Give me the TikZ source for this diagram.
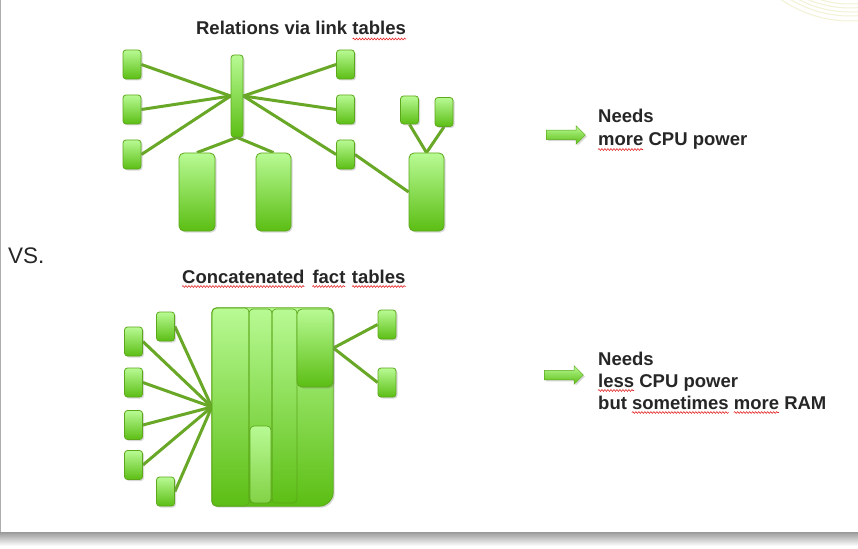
\documentclass[tikz,border=0pt]{standalone}
\usepackage{fontspec}
\setmainfont{Liberation Sans}
\usetikzlibrary{shapes.arrows,shadows,backgrounds,decorations.pathmorphing}

\definecolor{lnk}{RGB}{104,168,38}
\definecolor{bord}{RGB}{92,168,26}
\definecolor{gtop}{RGB}{184,250,148}
\definecolor{gbot}{RGB}{92,190,20}
\definecolor{gmid}{RGB}{130,210,70}
\definecolor{txt}{RGB}{38,38,38}
\definecolor{arcc}{RGB}{242,242,212}
\definecolor{spell}{RGB}{230,40,40}

\newcommand\lblfont{\bfseries\fontsize{18.5}{23}\selectfont}
\newlength\wtables \newlength\wconc \newlength\wfact
\newlength\wmore \newlength\wless \newlength\wbut \newlength\wsome

\tikzset{
  shd/.style={drop shadow={shadow xshift=1.5pt, shadow yshift=-1.5pt, opacity=0.3}},
  box/.style={draw=bord, line width=0.8pt, rounded corners=3pt, top color=gtop, bottom color=gbot, inner sep=0pt, shd},
  small/.style={box, minimum width=18pt, minimum height=29pt},
  tall/.style={box, rounded corners=5pt, minimum width=36pt, minimum height=78pt},
  colbox/.style={draw=bord, line width=0.7pt, rounded corners=4pt, inner sep=0pt},
  link/.style={draw=lnk, line width=3pt},
  lbl/.style={font=\lblfont, text=txt, align=left, inner sep=0pt},
  garrow/.style={single arrow, draw=bord, line width=0.5pt, top color=gtop, bottom color=gbot,
    inner sep=4.5pt, single arrow head extend=4.5pt, minimum height=39pt, shd},
  squig/.style={draw=spell, line width=0.6pt, decorate, decoration={snake, amplitude=0.9pt, segment length=3pt}},
}

\begin{document}
\settowidth\wtables{\lblfont tables}
\settowidth\wconc{\lblfont Concatenated}
\settowidth\wfact{\lblfont fact}
\settowidth\wmore{\lblfont more}
\settowidth\wless{\lblfont less}
\settowidth\wbut{\lblfont but }
\settowidth\wsome{\lblfont sometimes }
\begin{tikzpicture}[x=1pt, y=-1pt]
\useasboundingbox (0,0) rectangle (858,548);
% slide (on the background layer, below the links)
\begin{scope}[on background layer]
\fill[white] (0,0) rectangle (858,548);
\shade[top color=black!40, bottom color=white] (0,532) rectangle (858,546);
\fill[black!32] (0,0) rectangle (1.3,532);
\begin{scope}
  \clip (1.3,0) rectangle (858,532);
  \foreach \r in {104,108,112,116,121}
    \draw[arcc, line width=1pt] (850,-100) circle[radius=\r];
\end{scope}
\end{scope}

% ---------- top diagram ----------
\node[lbl, anchor=base] (t1) at (301,35) {Relations via link tables};
\draw[squig] ([xshift=-\wtables, yshift=-4pt]t1.base east) -- ([yshift=-4pt]t1.base east);

\node[small] (l1) at (132,64.5) {};
\node[small] (l2) at (132,109.5) {};
\node[small] (l3) at (132,154.5) {};
\node[box, minimum width=12pt, minimum height=82pt] (bar) at (237,96) {};
\node[small] (r1) at (345.5,64.5) {};
\node[small] (r2) at (345.5,109.5) {};
\node[small] (r3) at (345.5,154.5) {};
\node[tall] (big1) at (197,192) {};
\node[tall, minimum width=35pt] (big2) at (273.5,192) {};
\node[small, minimum height=28pt] (s1) at (409.5,110) {};
\node[small] (s2) at (444,112) {};
\node[tall, minimum width=35pt] (big3) at (426.5,192) {};

\begin{scope}[on background layer]
  \draw[link] (l1.east) -- (bar.west);
  \draw[link] (l2.east) -- (bar.west);
  \draw[link] (l3.east) -- (bar.west);
  \draw[link] (bar.east) -- (r1.west);
  \draw[link] (bar.east) -- (r2.west);
  \draw[link] (bar.east) -- (r3.west);
  \draw[link] (r3.east) -- (big3.west);
  \draw[link] (bar.south) -- (big1.north);
  \draw[link] (bar.south) -- (big2.north);
  \draw[link] (s1.south) -- (big3.north);
  \draw[link] (s2.south) -- (big3.north);
\end{scope}

\node[garrow] (ar1) at (563.5,135) {};
\node[lbl, anchor=base west] (n1a) at (598,123) {Needs};
\node[lbl, anchor=base west] (n1b) at (598,146) {more CPU power};
\draw[squig] ([yshift=-3.5pt]n1b.base west) -- ([xshift=\wmore, yshift=-3.5pt]n1b.base west);

% ---------- VS ----------
\node[font=\fontsize{22.5}{27}\selectfont, text=txt, anchor=base west, inner sep=0pt] (vs) at (8,263) {VS.};

% ---------- bottom diagram ----------
\node[lbl, anchor=base west] (t2) at (182,283) {Concatenated\hspace{8pt}fact\hspace{6.5pt}tables};
\draw[squig] ([yshift=-3.5pt]t2.base west) -- ([xshift=\wconc, yshift=-3.5pt]t2.base west);
\draw[squig] ([xshift=\wconc+8pt, yshift=-3.5pt]t2.base west) -- ([xshift=\wconc+8pt+\wfact, yshift=-3.5pt]t2.base west);
\draw[squig] ([xshift=-\wtables, yshift=-3.5pt]t2.base east) -- ([yshift=-3.5pt]t2.base east);

\node[small] (a1) at (133.5,341.5) {};
\node[small] (a2) at (133.5,382.5) {};
\node[small] (a3) at (133.5,425) {};
\node[small] (a4) at (133.5,465) {};
\node[small] (b1) at (165.5,326.5) {};
\node[small] (b2) at (165.5,491.5) {};
\node[small] (c1) at (387,324.5) {};
\node[small] (c2) at (387,382.5) {};

\node[minimum width=121pt, minimum height=198pt, inner sep=0pt] (fact) at (272.5,407) {};
\path[draw=bord, line width=0.8pt, top color=gtop, bottom color=gbot, shd]
  (fact.west) [rounded corners=5pt] -- (fact.north west) -- (fact.north east)
  [rounded corners=14pt] -- (fact.south east)
  [rounded corners=5pt] -- (fact.south west) -- cycle;
\node[colbox, minimum width=37pt, minimum height=198pt] (col1) at (230.5,407) {};
\node[colbox, minimum width=23pt, minimum height=194pt] (col2) at (260.5,406) {};
\node[colbox, minimum width=25pt, minimum height=194pt] (col3) at (284.5,406) {};
\node[colbox, top color=gtop, bottom color=gmid, minimum width=21pt, minimum height=77pt] (tiny) at (260.5,464.5) {};
\node[box, rounded corners=5pt, minimum width=36pt, minimum height=78pt] (dark) at (315,348) {};

\begin{scope}[on background layer]
  \draw[link] (a1.east) -- (fact.west);
  \draw[link] (a2.east) -- (fact.west);
  \draw[link] (a3.east) -- (fact.west);
  \draw[link] (a4.east) -- (fact.west);
  \draw[link] (b1.east) -- (fact.west);
  \draw[link] (b2.east) -- (fact.west);
  \draw[link] (dark.east) -- (c1.west);
  \draw[link] (dark.east) -- (c2.west);
\end{scope}

\node[garrow] (ar2) at (561.5,375) {};
\node[lbl, anchor=base west] (n2a) at (598,365) {Needs};
\node[lbl, anchor=base west] (n2b) at (598,387) {less CPU power};
\node[lbl, anchor=base west] (n2c) at (598,409) {but sometimes more RAM};
\draw[squig] ([yshift=-3.5pt]n2b.base west) -- ([xshift=\wless, yshift=-3.5pt]n2b.base west);
\draw[squig] ([xshift=\wbut, yshift=-3.5pt]n2c.base west) -- ([xshift=\wbut+\wsome-5pt, yshift=-3.5pt]n2c.base west);
\draw[squig] ([xshift=\wbut+\wsome, yshift=-3.5pt]n2c.base west) -- ([xshift=\wbut+\wsome+\wmore, yshift=-3.5pt]n2c.base west);
\end{tikzpicture}
\end{document}
